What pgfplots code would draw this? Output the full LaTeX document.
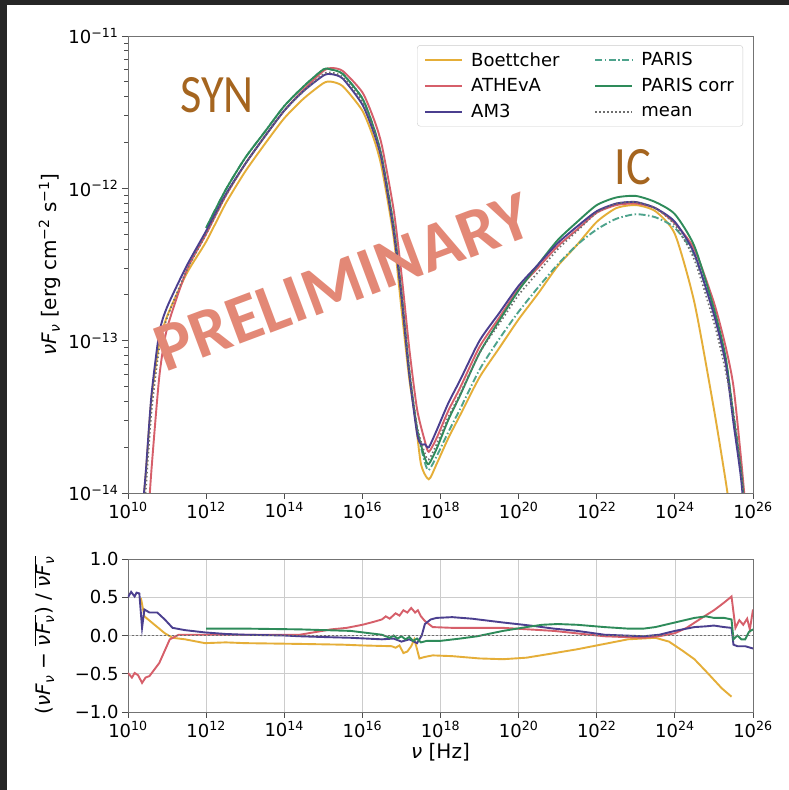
\documentclass[border=0pt]{standalone}
\usepackage{pgfplots}
\pgfplotsset{compat=1.18}
\usepackage{fontspec}
\setmainfont{DejaVu Sans}
\newfontfamily\carlito{Carlito}
\definecolor{cBoe}{HTML}{E5AE38}
\definecolor{cATH}{HTML}{D65F6A}
\definecolor{cAMT}{HTML}{4B3F8F}
\definecolor{cPAR}{HTML}{4DA38C}
\definecolor{cPARc}{HTML}{2E8B5A}
\definecolor{cMean}{HTML}{6E6E6E}
\definecolor{cAnn}{HTML}{A5651F}
\definecolor{cPrel}{HTML}{E38876}
\definecolor{cFrame}{HTML}{262626}
\newcommand{\nuF}{\textit{ν}\textit{F}\textsubscript{\textit{ν}}}
\pgfplotsset{common/.style={scale only axis, width=625pt, xmin=10, xmax=26,
  xtick={10,12,...,26},
  xticklabels={10\textsuperscript{10},10\textsuperscript{12},10\textsuperscript{14},10\textsuperscript{16},10\textsuperscript{18},10\textsuperscript{20},10\textsuperscript{22},10\textsuperscript{24},10\textsuperscript{26}},
  tick align=outside, tick pos=left, major tick length=6pt, minor tick length=3.5pt,
  axis line style={black!55, line width=0.8pt},
  every tick/.style={black!70, line width=0.8pt},
  ticklabel style={font=\fontsize{18}{20}\selectfont},
  every axis plot/.append style={line width=1.9pt},
}}
\begin{document}
\begin{tikzpicture}[x=1pt,y=1pt]
\fill[cFrame] (0,0) rectangle (789,790);
\fill[white] (7,0) rectangle (789,785);
\useasboundingbox (0,0) rectangle (789,790);

\begin{axis}[common, at={(128pt,297pt)}, anchor=south west, height=457pt,
  ymin=-14, ymax=-11, ytick={-14,-13,-12,-11},
  yticklabels={10\textsuperscript{−14},10\textsuperscript{−13},10\textsuperscript{−12},10\textsuperscript{−11}},
  minor ytick={-13.699,-13.523,-13.398,-13.301,-13.222,-13.155,-13.097,-13.046,-12.699,-12.523,-12.398,-12.301,-12.222,-12.155,-12.097,-12.046,-11.699,-11.523,-11.398,-11.301,-11.222,-11.155,-11.097,-11.046},
  ylabel={\nuF{} [erg cm\textsuperscript{−2} s\textsuperscript{−1}]},
  every axis y label/.style={at={(axis description cs:-0.125,0.5)}, rotate=90, anchor=center, font=\fontsize{20}{24}\selectfont},
  legend columns=2,
  legend style={at={(axis description cs:0.984,0.98)}, anchor=north east,
    font=\fontsize{18}{21}\selectfont, draw=black!20, fill=white, rounded corners=3pt,
    /tikz/every odd column/.append style={column sep=6pt},
    /tikz/every even column/.append style={column sep=33pt}, row sep=7pt, inner xsep=7pt, inner ysep=5pt},
  legend cell align=left,
  legend image code/.code={\draw[#1] (0pt,0pt) -- (37pt,0pt);},
]
\addlegendimage{cBoe, line width=1.9pt}
\addlegendentry{Boettcher}
\addlegendimage{cPAR, line width=1.9pt, dash pattern=on 7pt off 2.5pt on 1.5pt off 2.5pt}
\addlegendentry{PARIS}
\addlegendimage{cATH, line width=1.9pt}
\addlegendentry{ATHEvA}
\addlegendimage{cPARc, line width=1.9pt}
\addlegendentry{PARIS corr}
\addlegendimage{cAMT, line width=1.9pt}
\addlegendentry{AM3}
\addlegendimage{cMean, line width=1.7pt, dash pattern=on 1.5pt off 2.5pt}
\addlegendentry{mean}
\addplot[forget plot, cBoe, smooth, tension=0.4] coordinates {(10.35,-14.16)(10.45,-13.89)(10.6,-13.38)(10.8,-13.02)(11.0,-12.84)(11.5,-12.56)(12.0,-12.35)(12.5,-12.10)(13.0,-11.89)(13.5,-11.71)(14.0,-11.54)(14.5,-11.41)(15.0,-11.31)(15.2,-11.30)(15.5,-11.33)(16.0,-11.49)(16.3,-11.68)(16.5,-11.87)(16.8,-12.32)(17.0,-12.79)(17.2,-13.25)(17.35,-13.50)(17.5,-13.81)(17.7,-13.91)(17.9,-13.81)(18.2,-13.64)(18.5,-13.49)(19.0,-13.24)(19.5,-13.05)(20.0,-12.86)(20.5,-12.69)(21.0,-12.51)(21.5,-12.37)(22.0,-12.22)(22.5,-12.13)(23.0,-12.11)(23.5,-12.15)(24.0,-12.30)(24.5,-12.75)(25.0,-13.45)(25.3,-13.92)(25.4,-14.10)};
\addplot[forget plot, cPAR, smooth, tension=0.4, dash pattern=on 7pt off 2.5pt on 1.5pt off 2.5pt] coordinates {(12.0,-12.26)(12.5,-12.01)(13.0,-11.80)(13.5,-11.63)(14.0,-11.46)(14.5,-11.33)(15.0,-11.22)(15.2,-11.22)(15.5,-11.25)(16.0,-11.41)(16.3,-11.61)(16.5,-11.80)(16.8,-12.25)(17.0,-12.69)(17.2,-13.20)(17.4,-13.58)(17.6,-13.80)(17.7,-13.85)(17.9,-13.76)(18.2,-13.60)(18.5,-13.45)(19.0,-13.19)(19.5,-12.99)(20.0,-12.81)(20.5,-12.65)(21.0,-12.50)(21.5,-12.37)(22.0,-12.27)(22.5,-12.20)(23.0,-12.17)(23.5,-12.19)(24.0,-12.26)(24.5,-12.44)(25.0,-12.82)(25.3,-13.13)(25.5,-13.48)(25.7,-13.87)(25.85,-14.30)};
\addplot[forget plot, cATH, smooth, tension=0.4] coordinates {(10.3,-14.80)(10.45,-14.40)(10.6,-13.85)(10.8,-13.24)(11.0,-12.92)(11.5,-12.54)(12.0,-12.30)(12.5,-12.05)(13.0,-11.84)(13.5,-11.66)(14.0,-11.49)(14.5,-11.35)(15.0,-11.23)(15.2,-11.21)(15.5,-11.23)(16.0,-11.37)(16.3,-11.55)(16.5,-11.72)(16.8,-12.14)(17.0,-12.56)(17.2,-13.05)(17.4,-13.45)(17.6,-13.66)(17.7,-13.73)(17.9,-13.64)(18.2,-13.46)(18.5,-13.31)(19.0,-13.04)(19.5,-12.85)(20.0,-12.66)(20.5,-12.52)(21.0,-12.38)(21.5,-12.27)(22.0,-12.16)(22.5,-12.11)(23.0,-12.10)(23.5,-12.13)(24.0,-12.23)(24.5,-12.40)(25.0,-12.75)(25.3,-13.04)(25.5,-13.30)(25.7,-13.79)(25.85,-14.22)};
\addplot[forget plot, cPARc, smooth, tension=0.4] coordinates {(12.0,-12.26)(12.5,-12.01)(13.0,-11.80)(13.5,-11.63)(14.0,-11.46)(14.5,-11.33)(15.0,-11.22)(15.2,-11.22)(15.5,-11.25)(16.0,-11.41)(16.3,-11.61)(16.5,-11.80)(16.8,-12.25)(17.0,-12.69)(17.2,-13.20)(17.4,-13.58)(17.6,-13.77)(17.7,-13.81)(17.9,-13.71)(18.2,-13.52)(18.5,-13.36)(19.0,-13.08)(19.5,-12.87)(20.0,-12.67)(20.5,-12.50)(21.0,-12.34)(21.5,-12.22)(22.0,-12.11)(22.5,-12.06)(23.0,-12.05)(23.5,-12.09)(24.0,-12.17)(24.5,-12.38)(25.0,-12.79)(25.3,-13.11)(25.5,-13.50)(25.7,-13.87)(25.85,-14.28)};
\addplot[forget plot, cAMT, smooth, tension=0.4] coordinates {(10.3,-14.31)(10.45,-13.88)(10.6,-13.36)(10.8,-12.95)(11.0,-12.78)(11.5,-12.51)(12.0,-12.28)(12.5,-12.04)(13.0,-11.84)(13.5,-11.66)(14.0,-11.49)(14.5,-11.36)(15.0,-11.26)(15.2,-11.25)(15.5,-11.28)(16.0,-11.45)(16.3,-11.64)(16.5,-11.82)(16.8,-12.28)(17.0,-12.71)(17.2,-13.22)(17.4,-13.61)(17.5,-13.68)(17.6,-13.68)(17.7,-13.70)(17.9,-13.59)(18.2,-13.41)(18.5,-13.26)(19.0,-13.00)(19.5,-12.82)(20.0,-12.64)(20.5,-12.50)(21.0,-12.36)(21.5,-12.25)(22.0,-12.15)(22.5,-12.10)(23.0,-12.09)(23.5,-12.13)(24.0,-12.22)(24.5,-12.43)(25.0,-12.83)(25.3,-13.15)(25.5,-13.54)(25.7,-13.92)(25.85,-14.38)};
\addplot[forget plot, cMean, smooth, tension=0.4, line width=1.7pt, dash pattern=on 1.5pt off 2.5pt] coordinates {(10.3,-14.50)(10.45,-14.00)(10.6,-13.47)(10.8,-13.05)(11.0,-12.85)(11.5,-12.54)(12.0,-12.30)(12.5,-12.05)(13.0,-11.84)(13.5,-11.66)(14.0,-11.49)(14.5,-11.36)(15.0,-11.25)(15.2,-11.24)(15.5,-11.27)(16.0,-11.43)(16.3,-11.62)(16.5,-11.80)(16.8,-12.25)(17.0,-12.68)(17.2,-13.18)(17.4,-13.56)(17.6,-13.74)(17.7,-13.78)(17.9,-13.68)(18.2,-13.50)(18.5,-13.35)(19.0,-13.08)(19.5,-12.89)(20.0,-12.70)(20.5,-12.55)(21.0,-12.40)(21.5,-12.28)(22.0,-12.16)(22.5,-12.10)(23.0,-12.09)(23.5,-12.13)(24.0,-12.24)(24.5,-12.47)(25.0,-12.88)(25.3,-13.20)(25.5,-13.48)(25.7,-13.85)(25.85,-14.30)};
\end{axis}

\begin{axis}[common, at={(128pt,78pt)}, anchor=south west, height=153pt,
  ymin=-1, ymax=1, ytick={-1,-0.5,0,0.5,1},
  yticklabels={−1.0,−0.5,0.0,0.5,1.0},
  grid=major, major grid style={black!20, line width=0.7pt},
  xlabel={\textit{ν} [Hz]},
  every axis x label/.style={at={(axis description cs:0.5,-0.26)}, anchor=center, font=\fontsize{20}{24}\selectfont},
  ylabel={(\nuF{} − $\overline{\hbox{\nuF}}$) / $\overline{\hbox{\nuF}}$},
  every axis y label/.style={at={(axis description cs:-0.134,0.5)}, rotate=90, anchor=center, font=\fontsize{20}{24}\selectfont},
]
\addplot[cBoe] coordinates {(10.33,0.49)(10.42,0.25)(10.68,0.14)(10.94,0.03)(11.14,-0.03)(11.46,-0.05)(11.97,-0.10)(12.5,-0.09)(13.0,-0.10)(14.4,-0.11)(15.5,-0.12)(16.0,-0.13)(16.75,-0.14)(16.85,-0.16)(16.95,-0.13)(17.05,-0.23)(17.15,-0.21)(17.25,-0.14)(17.33,-0.05)(17.4,-0.18)(17.46,-0.30)(17.6,-0.28)(17.8,-0.26)(18.3,-0.27)(19.0,-0.30)(19.6,-0.31)(20.2,-0.29)(20.8,-0.24)(21.5,-0.18)(22.2,-0.11)(22.8,-0.05)(23.5,-0.03)(23.85,-0.08)(24.2,-0.2)(24.5,-0.31)(24.8,-0.47)(25.0,-0.58)(25.2,-0.69)(25.45,-0.80)};
\addplot[cATH] coordinates {(10.0,-0.49)(10.1,-0.55)(10.17,-0.49)(10.26,-0.52)(10.36,-0.62)(10.45,-0.55)(10.55,-0.53)(10.8,-0.36)(11.07,-0.05)(11.3,0.01)(12.0,0.01)(13.0,0.01)(14.4,0.01)(15.2,0.08)(15.6,0.10)(16.0,0.14)(16.3,0.18)(16.5,0.21)(16.6,0.25)(16.7,0.22)(16.85,0.29)(16.95,0.26)(17.05,0.33)(17.15,0.30)(17.25,0.36)(17.35,0.30)(17.42,0.33)(17.5,0.25)(17.6,0.19)(17.8,0.11)(18.3,0.10)(19.6,0.10)(20.9,0.06)(22.2,-0.01)(23.2,-0.03)(23.6,-0.01)(24.0,0.03)(24.3,0.10)(24.75,0.25)(25.0,0.33)(25.26,0.43)(25.45,0.51)(25.55,0.10)(25.65,0.20)(25.75,0.14)(25.85,0.22)(25.92,0.08)(26.0,0.34)};
\addplot[cAMT] coordinates {(10.0,0.50)(10.08,0.57)(10.17,0.51)(10.22,0.56)(10.29,0.55)(10.36,0.10)(10.42,0.34)(10.55,0.30)(10.75,0.30)(10.94,0.21)(11.14,0.10)(11.46,0.07)(11.97,0.04)(12.5,0.02)(13.0,0.01)(14.0,0.0)(14.4,-0.01)(15.0,-0.02)(15.7,-0.03)(16.5,-0.05)(16.8,-0.04)(17.0,-0.08)(17.2,-0.05)(17.4,-0.10)(17.52,0.0)(17.6,0.15)(17.75,0.21)(17.9,0.23)(18.3,0.24)(18.8,0.22)(19.6,0.17)(20.3,0.13)(20.9,0.09)(21.5,0.06)(22.2,0.01)(22.7,0.0)(23.2,-0.01)(23.6,0.01)(24.0,0.06)(24.5,0.11)(24.8,0.12)(25.0,0.13)(25.26,0.11)(25.45,0.10)(25.5,-0.12)(25.6,-0.14)(25.8,-0.14)(26.0,-0.17)};
\addplot[cPARc] coordinates {(12.0,0.09)(13.0,0.09)(14.4,0.08)(15.7,0.06)(16.5,0.01)(16.7,-0.03)(16.8,0.0)(16.9,-0.04)(17.0,-0.01)(17.1,-0.05)(17.2,-0.02)(17.3,-0.07)(17.4,-0.04)(17.5,-0.09)(17.65,-0.07)(18.0,-0.07)(18.5,-0.04)(18.94,-0.01)(19.6,0.06)(20.2,0.11)(20.6,0.14)(21.0,0.15)(21.5,0.14)(22.2,0.11)(22.8,0.09)(23.2,0.09)(23.5,0.11)(24.0,0.17)(24.5,0.23)(24.8,0.25)(25.0,0.23)(25.26,0.23)(25.45,0.21)(25.5,-0.05)(25.6,0.0)(25.7,-0.05)(25.8,-0.05)(25.9,0.05)(26.0,0.08)};
\addplot[cMean, line width=1.6pt, dash pattern=on 1.5pt off 2.5pt] coordinates {(10,0)(26,0)};
\end{axis}

\node[font=\carlito\fontsize{54}{56}\selectfont, text=cAnn, xscale=0.86] at (217,695) {SYN};
\node[font=\carlito\fontsize{54}{56}\selectfont, text=cAnn, xscale=0.86] at (633,623) {IC};
\node[font=\carlito\bfseries\fontsize{69}{72}\selectfont, text=cPrel, rotate=20.5] at (343,508) {PRELIMINARY};
\end{tikzpicture}
\end{document}
